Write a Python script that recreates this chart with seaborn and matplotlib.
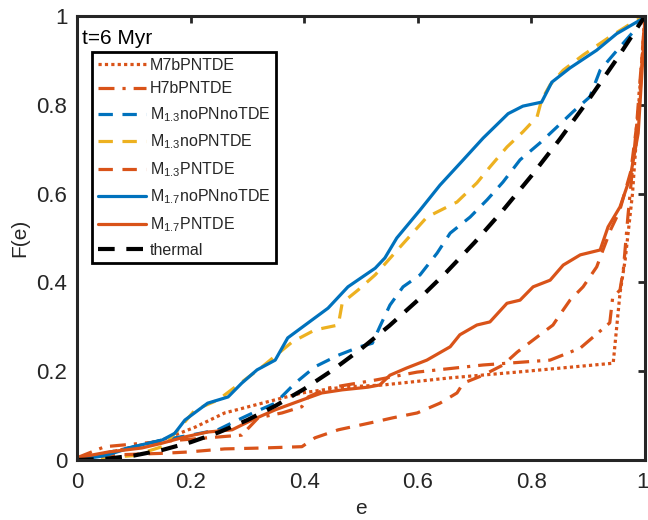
import matplotlib
matplotlib.use("Agg")
import matplotlib.pyplot as plt
import matplotlib.transforms as mtransforms
import seaborn as sns
import pandas as pd

# ---------------- data ----------------
labels = ["M7bPNTDE", "H7bPNTDE", r"M$_{\mathrm{1.3}}$noPNnoTDE", r"M$_{\mathrm{1.3}}$noPNTDE",
          r"M$_{\mathrm{1.3}}$PNTDE", r"M$_{\mathrm{1.7}}$noPNnoTDE", r"M$_{\mathrm{1.7}}$PNTDE", "thermal"]

m7b_e = [0, 0.1, 0.15, 0.208, 0.26, 0.326, 0.396, 0.467, 0.539, 0.657, 0.775, 0.944, 0.956, 0.965, 0.978, 0.99, 1]
m7b_F = [0, 0.03, 0.045, 0.074, 0.106, 0.128, 0.151, 0.164, 0.169, 0.185, 0.198, 0.218, 0.376, 0.45, 0.6, 0.82, 1]

h7b_e = [0, 0.049, 0.143, 0.23, 0.29, 0.319, 0.361, 0.396, 0.407, 0.442, 0.525, 0.599, 0.715, 0.833, 0.886,
         0.938, 0.943, 0.956, 0.962, 0.97, 0.985, 1]
h7b_F = [0.005, 0.03, 0.041, 0.05, 0.056, 0.095, 0.106, 0.12, 0.142, 0.162, 0.18, 0.198, 0.214, 0.225, 0.252,
         0.309, 0.365, 0.383, 0.43, 0.55, 0.75, 1]

m13_nn_e = [0, 0.072, 0.114, 0.15, 0.2, 0.248, 0.283, 0.313, 0.349, 0.384, 0.419, 0.46, 0.498, 0.52, 0.533, 0.551,
            0.574, 0.604, 0.634, 0.657, 0.692, 0.722, 0.75, 0.78, 0.815, 0.845, 0.873, 0.903, 0.921, 0.951, 0.979, 1]
m13_nn_F = [0, 0.022, 0.034, 0.045, 0.056, 0.068, 0.09, 0.108, 0.128, 0.173, 0.21, 0.236, 0.255, 0.263, 0.3, 0.349,
            0.39, 0.417, 0.466, 0.511, 0.547, 0.586, 0.626, 0.676, 0.714, 0.75, 0.784, 0.818, 0.878, 0.923, 0.964, 1]

m13_np_e = [0, 0.1, 0.15, 0.178, 0.208, 0.248, 0.326, 0.379, 0.419, 0.46, 0.467, 0.495, 0.525, 0.569, 0.616, 0.669,
            0.704, 0.727, 0.757, 0.785, 0.81, 0.818, 0.833, 0.856, 0.891, 0.938, 0.979, 1]
m13_np_F = [0, 0.01, 0.03, 0.068, 0.113, 0.135, 0.21, 0.266, 0.293, 0.304, 0.354, 0.383, 0.417, 0.48, 0.547, 0.581,
            0.624, 0.66, 0.705, 0.739, 0.773, 0.811, 0.845, 0.878, 0.912, 0.953, 0.986, 1]

m13_p_e = [0, 0.055, 0.15, 0.195, 0.26, 0.326, 0.396, 0.419, 0.46, 0.525, 0.556, 0.599, 0.639, 0.669, 0.68, 0.715,
           0.75, 0.775, 0.81, 0.838, 0.85, 0.868, 0.891, 0.915, 0.926, 0.94, 0.955, 0.975, 0.99, 1]
m13_p_F = [0, 0.011, 0.015, 0.018, 0.025, 0.027, 0.03, 0.05, 0.068, 0.086, 0.095, 0.106, 0.128, 0.151, 0.173, 0.191,
           0.214, 0.243, 0.277, 0.304, 0.327, 0.36, 0.39, 0.435, 0.473, 0.52, 0.56, 0.65, 0.8, 1]

m17_nn_e = [0, 0.05, 0.1, 0.15, 0.172, 0.19, 0.23, 0.266, 0.29, 0.317, 0.349, 0.371, 0.407, 0.442, 0.477, 0.525,
            0.542, 0.563, 0.604, 0.639, 0.68, 0.715, 0.759, 0.785, 0.818, 0.836, 0.868, 0.915, 0.95, 0.997, 1]
m17_nn_F = [0, 0.01, 0.03, 0.045, 0.06, 0.09, 0.128, 0.142, 0.173, 0.203, 0.225, 0.275, 0.309, 0.342, 0.39, 0.432,
            0.455, 0.5, 0.563, 0.619, 0.676, 0.725, 0.78, 0.797, 0.806, 0.851, 0.883, 0.923, 0.96, 0.995, 1]

m17_p_e = [0, 0.055, 0.114, 0.15, 0.19, 0.23, 0.273, 0.308, 0.349, 0.396, 0.431, 0.467, 0.512, 0.533, 0.551, 0.58,
           0.616, 0.657, 0.674, 0.704, 0.727, 0.757, 0.78, 0.803, 0.833, 0.856, 0.886, 0.921, 0.935, 0.956, 0.974,
           0.988, 0.997, 1]
m17_p_F = [0.005, 0.018, 0.027, 0.038, 0.052, 0.063, 0.068, 0.09, 0.113, 0.135, 0.151, 0.158, 0.164, 0.169, 0.191,
           0.207, 0.225, 0.255, 0.282, 0.304, 0.311, 0.353, 0.36, 0.39, 0.405, 0.439, 0.462, 0.473, 0.525, 0.57,
           0.637, 0.736, 0.923, 1]

thermal_e = [0, 0.05, 0.1, 0.15, 0.2, 0.25, 0.3, 0.35, 0.4, 0.45, 0.5, 0.55, 0.6, 0.65, 0.7, 0.75, 0.8, 0.85,
             0.9, 0.95, 1]
thermal_F = [0, 0.0025, 0.01, 0.0225, 0.04, 0.0625, 0.09, 0.1225, 0.16, 0.2025, 0.25, 0.3025, 0.36, 0.4225,
             0.49, 0.5625, 0.64, 0.7225, 0.81, 0.9025, 1]

xticks = [0, 0.2, 0.4, 0.6, 0.8, 1]
xticklabels = ["0", "0.2", "0.4", "0.6", "0.8", "1"]
yticks = [0, 0.2, 0.4, 0.6, 0.8, 1]
yticklabels = ["0", "0.2", "0.4", "0.6", "0.8", "1"]

# ---------------- style ----------------
sns.set_style("white")
plt.rcParams["font.family"] = ["Liberation Sans", "DejaVu Sans"]
plt.rcParams["mathtext.fontset"] = "custom"
plt.rcParams["mathtext.rm"] = "Liberation Sans"
plt.rcParams["mathtext.it"] = "Liberation Sans:italic"

BLUE = "#0072BD"
ORANGE = "#D95319"
YELLOW = "#EDB120"
DARK = "#262626"

series = [
    (m7b_e, m7b_F, ORANGE, (0, (1.0, 1.0)), 2.3),
    (h7b_e, h7b_F, ORANGE, (0, (5, 2.5, 1, 2.5)), 2.3),
    (m13_nn_e, m13_nn_F, BLUE, (0, (4.5, 3)), 2.3),
    (m13_np_e, m13_np_F, YELLOW, (0, (4.5, 3)), 2.3),
    (m13_p_e, m13_p_F, ORANGE, (0, (4.5, 3)), 2.3),
    (m17_nn_e, m17_nn_F, BLUE, "-", 2.3),
    (m17_p_e, m17_p_F, ORANGE, "-", 2.3),
    (thermal_e, thermal_F, "black", (0, (4, 2.8)), 3.0),
]

fig = plt.figure(figsize=(6.48, 5.2), dpi=100)
ax = fig.add_axes([77 / 648, 1 - 460 / 520, 568 / 648, 444 / 520])

handles = []
for (e, F, c, ls, lw), lab in zip(series, labels):
    df = pd.DataFrame({"e": e, "F": F})
    sns.lineplot(data=df, x="e", y="F", ax=ax, color=c, linestyle=ls, linewidth=lw,
                 estimator=None, sort=False, label=lab, legend=False)
    handles.append(ax.get_lines()[-1])

ax.set_xlim(0, 1)
ax.set_ylim(0, 1)
ax.set_xticks(xticks)
ax.set_xticklabels(xticklabels)
ax.set_yticks(yticks)
ax.set_yticklabels(yticklabels)
ax.tick_params(direction="in", length=5, width=2, colors=DARK, labelsize=16,
               top=True, right=True, labeltop=False, labelright=False)
ax.tick_params(axis="x", pad=9)
ax.tick_params(axis="y", pad=7)
# keep the last x tick label inside the figure
last = ax.get_xticklabels()[-1]
last.set_horizontalalignment("right")
last.set_transform(last.get_transform() + mtransforms.ScaledTranslation(4 / 100, 0, fig.dpi_scale_trans))
for sp in ax.spines.values():
    sp.set_visible(True)
    sp.set_linewidth(2.2)
    sp.set_color(DARK)

ax.set_xlabel("e", fontsize=15, color=DARK, labelpad=4)
ax.set_ylabel("F(e)", fontsize=15, color=DARK, labelpad=5)

ax.text(0.009, 0.937, "t=6 Myr", transform=ax.transAxes, fontsize=15, color="black",
        ha="left", va="baseline")

leg = ax.legend(handles=handles, labels=labels, loc="upper left",
                bbox_to_anchor=((92 - 77) / 568, (460 - 52) / 444), borderaxespad=0,
                fontsize=11.5, handlelength=3.0, handletextpad=0.25, borderpad=0.35,
                labelspacing=0.55, fancybox=False, framealpha=1, edgecolor="black")
leg.get_frame().set_linewidth(2.0)

fig.savefig("out.png", dpi=100)
